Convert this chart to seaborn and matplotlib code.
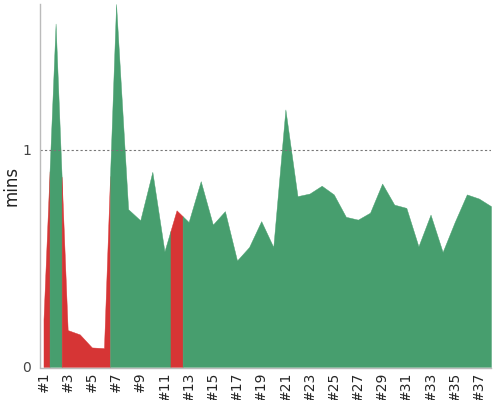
import matplotlib
matplotlib.use('Agg')
import matplotlib.pyplot as plt
import seaborn as sns
import numpy as np

# per-run durations (minutes)
runs = ['#%d' % i for i in range(1, 39)]
mins = [0.22, 1.58, 0.17, 0.15, 0.09, 0.087, 1.67, 0.726, 0.675, 0.898,
        0.532, 0.721, 0.667, 0.855, 0.655, 0.717, 0.490, 0.552, 0.671, 0.552,
        1.185, 0.786, 0.798, 0.834, 0.794, 0.691, 0.678, 0.710, 0.844, 0.747,
        0.732, 0.555, 0.701, 0.529, 0.667, 0.794, 0.775, 0.740]
# True = failed run (red), False = ok (green)
failed = [True, False, True, True, True, True, False, False, False, False,
          False, True] + [False] * 26

GREEN = '#479e6e'
RED = '#d63535'

sns.set_style('white')
plt.rcParams['font.family'] = ['DejaVu Sans']

fig = plt.figure(figsize=(5, 4), dpi=100)
ax = fig.add_axes([0.079, 0.0825, 0.903, 0.9075])

x = np.arange(len(runs))
y = np.array(mins)
n = len(runs)

# group consecutive runs with the same status; each run colours the area
# half a step either side of its point
start = 0
for i in range(1, n + 1):
    if i == n or failed[i] != failed[start]:
        lo = max(start - 0.5, 0)
        hi = min(i - 0.5, n - 1)
        xs = np.concatenate([[lo], x[(x > lo) & (x < hi)], [hi]])
        col = RED if failed[start] else GREEN
        ax.fill_between(xs, 0, np.interp(xs, x, y), color=col,
                        linewidth=0.3, edgecolor=col)
        start = i

ax.axhline(1, color='#777777', linestyle=(0, (2, 2)), linewidth=0.8)

ax.set_xlim(-0.33, n - 1)
ax.set_ylim(0, max(mins))
ax.set_xticks(x)
ax.set_xticklabels([r if i % 2 == 0 else '' for i, r in enumerate(runs)],
                   fontsize=6.3)
ax.set_yticks([0, 1])
ax.set_yticklabels(['0', '1'], fontsize=10, color='#444444')
ax.tick_params(axis='x', length=2, width=0.8, color='#aaaaaa', pad=0.5,
               labelrotation=90)
ax.tick_params(axis='y', length=3, width=0.8, color='#aaaaaa', pad=3)
ax.set_ylabel('mins', fontsize=12, color='#222222', fontweight='medium')
ax.yaxis.set_label_coords(-0.043, 0.5)

sns.despine(ax=ax)
for s in ['left', 'bottom']:
    ax.spines[s].set_color('#bbbbbb')
    ax.spines[s].set_linewidth(1)
ax.spines['bottom'].set_position(('outward', 1))

fig.savefig('out.png')
